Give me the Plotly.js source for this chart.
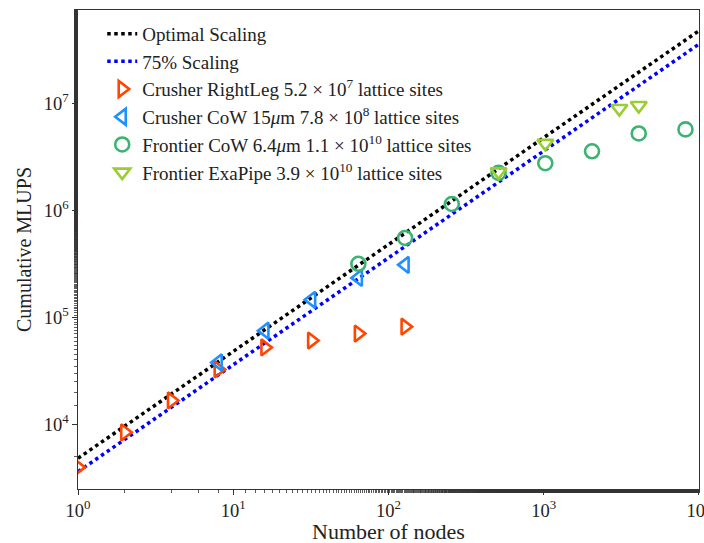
<!DOCTYPE html>
<html>
<head>
<meta charset="utf-8">
<script src="https://cdn.plot.ly/plotly-3.0.1.min.js"></script>
<style>
html,body{margin:0;padding:0;background:#fff}
#chart{width:704px;height:543px}
</style>
</head>
<body>
<div id="chart"></div>
<script>
// Scaling reference lines (end points)
const lineNodes = [1, 10000];
const optimalMLUPS = [4800, 48000000];
const scaling75MLUPS = [3600, 36000000];

// Crusher RightLeg
const rlNodes = [1, 2, 4, 8, 16, 32, 64, 128];
const rlMLUPS = [3950, 8400, 16700, 32600, 52300, 60700, 70500, 81800];

// Crusher CoW 15um
const cc15Nodes = [8, 16, 32, 64, 128];
const cc15MLUPS = [37900, 75100, 146000, 234000, 310000];

// Frontier CoW 6.4um
const fcNodes = [64, 128, 256, 512, 1024, 2048, 4096, 8192];
const fcMLUPS = [317000, 553000, 1150000, 2250000, 2770000, 3580000, 5260000, 5740000];

// Frontier ExaPipe
const feNodes = [512, 1024, 3072, 4096];
const feMLUPS = [2300000, 4250000, 9000000, 9600000];

// Tick labels
const xTickVals = [1, 10, 100, 1000, 10000];
const xTickText = ['10<sup>0</sup>', '10<sup>1</sup>', '10<sup>2</sup>', '10<sup>3</sup>', '10<sup>4</sup>'];
const yTickVals = [10000, 100000, 1000000, 10000000];
const yTickText = ['10<sup>4</sup>', '10<sup>5</sup>', '10<sup>6</sup>', '10<sup>7</sup>'];

const xTitle = 'Number of nodes';
const yTitle = 'Cumulative MLUPS';

const names = [
  'Optimal Scaling',
  '75% Scaling',
  'Crusher RightLeg 5.2 × 10<sup>7</sup> lattice sites',
  'Crusher CoW 15<i>μ</i>m 7.8 × 10<sup>8</sup> lattice sites',
  'Frontier CoW 6.4<i>μ</i>m 1.1 × 10<sup>10</sup> lattice sites',
  'Frontier ExaPipe 3.9 × 10<sup>10</sup> lattice sites'
];

const mk = (sym, col) => ({symbol: sym, size: 14, color: col, line: {color: col, width: 2.6}});

const traces = [
  {x: lineNodes, y: optimalMLUPS, mode: 'lines', name: names[0], line: {color: '#000000', width: 3.5, dash: 'dot'}},
  {x: lineNodes, y: scaling75MLUPS, mode: 'lines', name: names[1], line: {color: '#0000ff', width: 3.5, dash: 'dot'}},
  {x: rlNodes, y: rlMLUPS, mode: 'markers', name: names[2], marker: mk('triangle-right-open', '#ff4500')},
  {x: cc15Nodes, y: cc15MLUPS, mode: 'markers', name: names[3], marker: mk('triangle-left-open', '#1e90ff')},
  {x: fcNodes, y: fcMLUPS, mode: 'markers', name: names[4], marker: mk('circle-open', '#3cb371')},
  {x: feNodes, y: feMLUPS, mode: 'markers', name: names[5], marker: mk('triangle-down-open', '#9acd32')}
];

const font = 'Liberation Serif, DejaVu Serif, serif';
const axisCommon = {
  type: 'log', showgrid: false, zeroline: false,
  showline: true, linecolor: '#333', linewidth: 1.2, mirror: true,
  ticks: 'outside', ticklen: 4.5, tickwidth: 1, tickcolor: '#333',
  ticklabeloverflow: 'allow',
  tickfont: {family: font, size: 18.5, color: '#222'},
  minor: {ticks: 'outside', ticklen: 2.5, tickwidth: 0.8, tickcolor: '#333', showgrid: false}
};

const layout = {
  width: 704, height: 543,
  margin: {l: 78, r: 5, t: 10, b: 54},
  paper_bgcolor: '#fff', plot_bgcolor: '#fff',
  showlegend: true,
  legend: {x: 0.039, y: 0.99, xanchor: 'left', yanchor: 'top', bgcolor: 'rgba(255,255,255,0)', borderwidth: 0,
           font: {family: font, size: 19, color: '#222'}, tracegroupgap: 0, itemwidth: 30},
  xaxis: Object.assign({}, axisCommon, {range: [0, 4.0005], tickmode: 'array', tickvals: xTickVals, ticktext: xTickText}),
  yaxis: Object.assign({}, axisCommon, {range: [3.394, 7.876], tickmode: 'array', tickvals: yTickVals, ticktext: yTickText,
    title: {text: yTitle, font: {family: font, size: 20, color: '#222'}, standoff: 6}}),
  annotations: [{
    text: xTitle, xref: 'paper', yref: 'paper', x: 0.5, y: -0.088, xanchor: 'center', yanchor: 'middle',
    showarrow: false, font: {family: font, size: 22, color: '#222'}
  }]
};

Plotly.newPlot('chart', traces, layout, {displayModeBar: false, staticPlot: true});
</script>
</body>
</html>
